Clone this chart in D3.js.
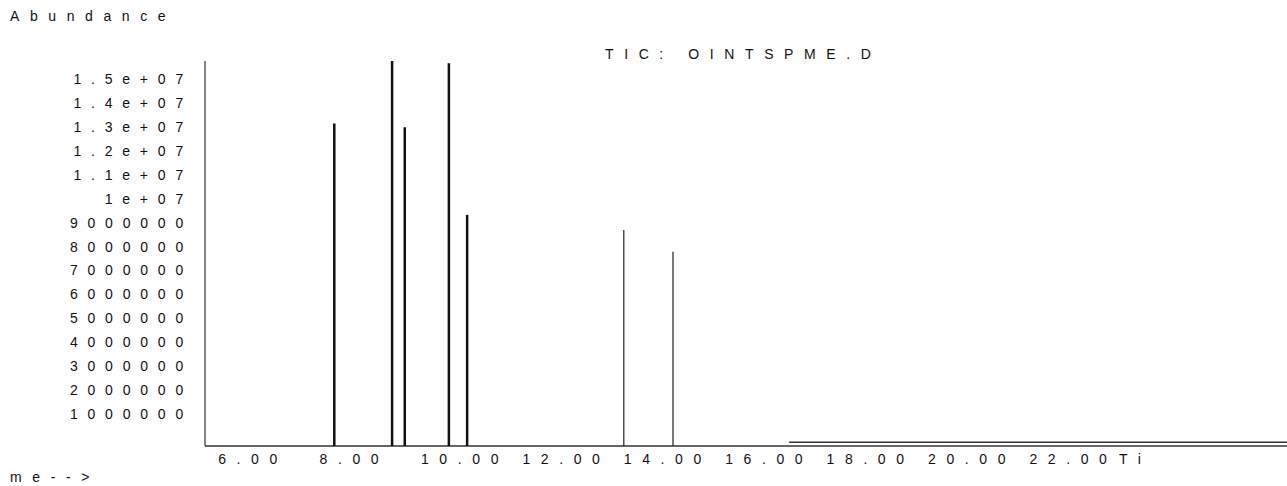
<!DOCTYPE html>
<html>
<head>
<meta charset="utf-8">
<script src="https://cdn.jsdelivr.net/npm/d3@7"></script>
<style>
  body { margin: 0; background: #fff; }
  svg { display: block; font-family: "Liberation Sans", Arial, sans-serif; }
  text { font-size: 14px; fill: #111; }
</style>
</head>
<body>
<svg id="chart" width="1287" height="486"></svg>
<script>
// peaks of the TIC (retention time in min, abundance)
var peakTimes = [8.29, 9.43, 9.68, 10.55, 10.91, 14.00, 14.97];
var peakValues = [13470000, 16080000, 13310000, 15980000, 9650000, 9020000, 8110000];
// the two late peaks are drawn thinner
var peakThin = [false, false, false, false, false, true, true];

// raised baseline of the trace near the end of the run
var traceTimes = [17.26, 27.08];
var traceValues = [155000, 155000];

var yTicks = [1000000, 2000000, 3000000, 4000000, 5000000, 6000000, 7000000,
  8000000, 9000000, 10000000, 11000000, 12000000, 13000000, 14000000, 15000000];
var yTickLabels = ["1000000", "2000000", "3000000", "4000000", "5000000", "6000000", "7000000",
  "8000000", "9000000", "1e+07", "1.1e+07", "1.2e+07", "1.3e+07", "1.4e+07", "1.5e+07"];
var xTicks = [6, 8, 10, 12, 14, 16, 18, 20, 22];
var xTickLabels = ["6.00", "8.00", "10.00", "12.00", "14.00", "16.00", "18.00", "20.00", "22.00"];

var svg = d3.select("#chart");

var x = d3.scaleLinear().domain([5.74, 27.08]).range([205, 1287]);
var y = d3.scaleLinear().domain([0, 15000000]).range([446, 86.75]);

// titles
svg.append("text").attr("x", 10).attr("y", 16).attr("dy", "0.35em")
  .style("letter-spacing", "10.6px").text("Abundance");
svg.append("text").attr("x", 605).attr("y", 54).attr("dy", "0.35em")
  .style("letter-spacing", "10.6px").text("TIC: OINTSPME.D");

// y axis labels
svg.append("g").selectAll("text")
  .data(yTicks)
  .join("text")
  .attr("x", 193)
  .attr("y", function(d){ return y(d) - 7.8; })
  .attr("dy", "0.35em")
  .attr("text-anchor", "end")
  .style("letter-spacing", "9.8px")
  .text(function(d, i){ return yTickLabels[i]; });

// x axis labels
svg.append("g").selectAll("text")
  .data(xTicks)
  .join("text")
  .attr("x", function(d){ return x(d); })
  .attr("y", 459)
  .attr("dy", "0.35em")
  .style("letter-spacing", "10.6px")
  .text(function(d, i){ return xTickLabels[i]; });

// the axis title got wrapped in the original: "Ti" / "me-->"
svg.append("text").attr("x", 1119).attr("y", 459).attr("dy", "0.35em")
  .style("letter-spacing", "10.6px").text("Ti");
svg.append("text").attr("x", 10).attr("y", 477).attr("dy", "0.35em")
  .style("letter-spacing", "10.6px").text("me-->");

// axes
svg.append("line")
  .attr("x1", 205).attr("x2", 205)
  .attr("y1", 61).attr("y2", y(0))
  .attr("stroke", "#444").attr("stroke-width", 1.3);
svg.append("line")
  .attr("x1", 205).attr("x2", 1287)
  .attr("y1", y(0)).attr("y2", y(0))
  .attr("stroke", "#333").attr("stroke-width", 1.5);

// trace baseline
var traceLine = d3.line()
  .x(function(d){ return x(d[0]); })
  .y(function(d){ return y(d[1]); });
svg.append("path")
  .datum(d3.zip(traceTimes, traceValues))
  .attr("d", traceLine)
  .attr("fill", "none")
  .attr("stroke", "#333")
  .attr("stroke-width", 1.5);

// peaks
svg.append("g").selectAll("line")
  .data(peakTimes)
  .join("line")
  .attr("x1", function(d){ return x(d); })
  .attr("x2", function(d){ return x(d); })
  .attr("y1", y(0))
  .attr("y2", function(d, i){ return y(peakValues[i]); })
  .attr("stroke", function(d, i){ return peakThin[i] ? "#222" : "#111"; })
  .attr("stroke-width", function(d, i){ return peakThin[i] ? 1.2 : 2.5; });
</script>
</body>
</html>
